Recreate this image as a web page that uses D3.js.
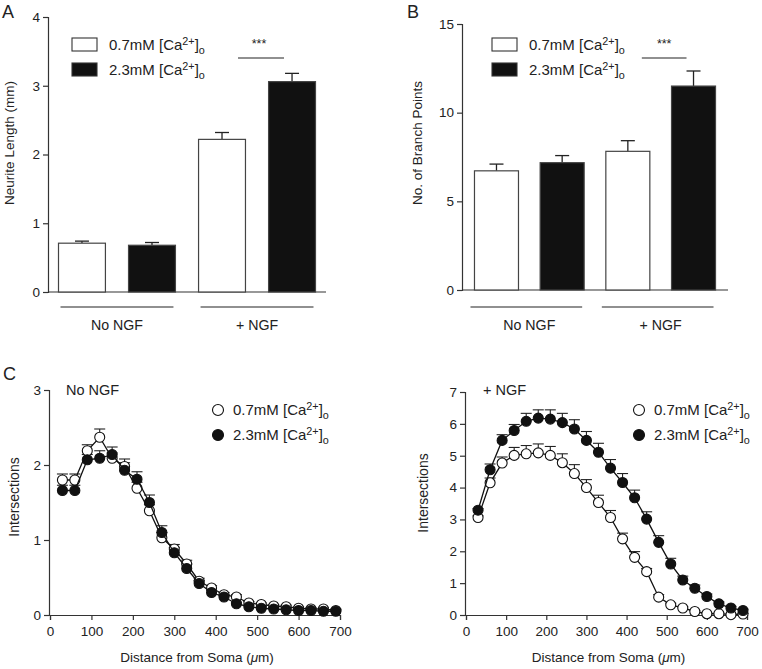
<!DOCTYPE html>
<html><head><meta charset="utf-8">
<script src="https://cdn.jsdelivr.net/npm/d3@7"></script>
<style>
body{margin:0;background:#fff;}
svg{display:block;font-family:"Liberation Sans",Arial,Helvetica,sans-serif;}
text{fill:#222;}
</style></head><body>
<svg id="chart" width="762" height="669"></svg>
<script>
// ---------- DATA ----------
const barKeys = ["No NGF|0.7", "No NGF|2.3", "+ NGF|0.7", "+ NGF|2.3"];
const groups = ["No NGF", "+ NGF"];
const legendLabels = ["0.7mM [Ca", "2.3mM [Ca"];
const lengthMean = [0.71, 0.68, 2.22, 3.06];
const lengthErr  = [0.03, 0.04, 0.10, 0.12];
const branchMean = [6.72, 7.18, 7.82, 11.5];
const branchErr  = [0.38, 0.40, 0.60, 0.85];
const lengthTicks = [0, 1, 2, 3, 4];
const branchTicks = [0, 5, 10, 15];

const distance = [30,60,90,120,150,180,210,240,270,300,330,360,390,420,450,480,510,540,570,600,630,660,690];
const noNgfLow  = [1.80,1.80,2.19,2.37,2.09,1.98,1.69,1.39,1.03,0.88,0.68,0.45,0.36,0.27,0.24,0.16,0.14,0.12,0.11,0.09,0.08,0.08,0.06];
const noNgfLowErr = [0.08,0.08,0.08,0.11,0.07,0.10,0.08,0.08,0.07,0.06,0.05,0.04,0.03,0.03,0.03,0.02,0.02,0.02,0.02,0.02,0.02,0.02,0.02];
const noNgfHigh = [1.66,1.66,2.07,2.09,2.14,1.93,1.81,1.50,1.10,0.83,0.62,0.42,0.30,0.24,0.15,0.11,0.09,0.08,0.07,0.06,0.06,0.05,0.05];
const noNgfHighErr = [0.07,0.07,0.07,0.10,0.10,0.10,0.10,0.10,0.09,0.07,0.06,0.04,0.03,0.03,0.02,0.02,0.02,0.02,0.02,0.02,0.02,0.02,0.02];
const ngfLow  = [3.06,4.15,4.77,5.01,5.06,5.09,5.01,4.78,4.44,4.00,3.53,3.06,2.39,1.81,1.36,0.56,0.32,0.22,0.11,0.04,0.04,0.01,0.03];
const ngfLowErr = [0.05,0.15,0.19,0.25,0.26,0.28,0.28,0.28,0.28,0.25,0.23,0.22,0.18,0.18,0.10,0.08,0.05,0.04,0.03,0.02,0.02,0.02,0.02];
const ngfHigh = [3.29,4.56,5.48,5.79,6.08,6.18,6.15,6.04,5.84,5.48,5.11,4.61,4.16,3.68,3.01,2.28,1.60,1.10,0.84,0.58,0.35,0.22,0.14];
const ngfHighErr = [0.05,0.18,0.18,0.19,0.25,0.26,0.29,0.29,0.29,0.28,0.28,0.27,0.28,0.24,0.23,0.21,0.18,0.12,0.10,0.08,0.06,0.05,0.04];
const noNgfTicks = [0, 1, 2, 3];
const ngfTicks = [0, 1, 2, 3, 4, 5, 6, 7];
const distTicks = [0, 100, 200, 300, 400, 500, 600, 700];

// ---------- DRAW ----------
const svg = d3.select("#chart");
const AX = "#333";
const LEG = 15;

function caLabel(sel, i, size) {
  sel.text(legendLabels[i]);
  sel.append("tspan").attr("dy", -5.5).attr("font-size", size * 0.72).text("2+");
  sel.append("tspan").attr("dy", 5.5).text("]");
  sel.append("tspan").attr("dy", 4).attr("font-size", size * 0.72).text("o");
}

function styleAxis(g) {
  g.select(".domain").attr("stroke", AX).attr("stroke-width", 1.2);
  g.selectAll(".tick line").attr("stroke", AX).attr("stroke-width", 1.2);
  g.selectAll(".tick text").attr("font-size", 13.5).attr("fill", "#222")
    .attr("font-family", '"Liberation Sans",Arial,sans-serif');
}

function barPanel(o) {
  const g = svg.append("g");
  const x = d3.scaleBand().domain(barKeys).range(o.xr).paddingInner(0.33).paddingOuter(o.po);
  const y = d3.scaleLinear().domain(o.yd).range(o.yr);
  const ya = g.append("g").attr("transform", `translate(${o.xr[0]},0)`)
    .call(d3.axisLeft(y).tickValues(o.ticks).tickFormat(d3.format("d")).tickSize(5).tickPadding(3));
  styleAxis(ya);
  g.append("line").attr("x1", o.xr[0]).attr("x2", o.xr[1]).attr("y1", y(0)).attr("y2", y(0))
    .attr("stroke", AX).attr("stroke-width", 1.2);
  const bw = x.bandwidth();
  barKeys.forEach((k, i) => {
    const cx = x(k) + bw / 2;
    g.append("line").attr("x1", cx).attr("x2", cx).attr("y1", y(o.mean[i])).attr("y2", y(o.mean[i] + o.err[i]))
      .attr("stroke", "#222").attr("stroke-width", 1.3);
    g.append("line").attr("x1", cx - 7).attr("x2", cx + 7).attr("y1", y(o.mean[i] + o.err[i])).attr("y2", y(o.mean[i] + o.err[i]))
      .attr("stroke", "#222").attr("stroke-width", 1.3);
  });
  g.selectAll("rect.bar").data(barKeys).join("rect").attr("class", "bar")
    .attr("x", d => x(d)).attr("width", bw)
    .attr("y", (d, i) => y(o.mean[i])).attr("height", (d, i) => y(0) - y(o.mean[i]))
    .attr("fill", (d, i) => i % 2 ? "#111" : "#fff")
    .attr("stroke", "#444").attr("stroke-width", 1.2);
  groups.forEach((gr, j) => {
    const a = x(barKeys[j * 2]), b = x(barKeys[j * 2 + 1]) + bw;
    g.append("line").attr("x1", a + o.gl[0]).attr("x2", b + o.gl[1]).attr("y1", 307).attr("y2", 307)
      .attr("stroke", "#222").attr("stroke-width", 1.2);
    g.append("text").attr("x", (a + b) / 2).attr("y", 330).attr("text-anchor", "middle")
      .attr("font-size", 14.2).text(gr);
  });
  const s1 = x(barKeys[2]) + bw / 2, s2 = x(barKeys[3]) + bw / 2;
  g.append("line").attr("x1", s1 + o.sig[0]).attr("x2", s2 + o.sig[1]).attr("y1", 58).attr("y2", 58)
    .attr("stroke", "#222").attr("stroke-width", 1.2);
  g.append("text").attr("x", (s1 + s2) / 2 + o.sig[2]).attr("y", 48).attr("text-anchor", "middle")
    .attr("font-size", 12.5).text("***");
  [0, 1].forEach(i => {
    g.append("rect").attr("x", o.lx).attr("y", 38 + i * 25).attr("width", 25).attr("height", 13)
      .attr("fill", i ? "#111" : "#fff").attr("stroke", "#333").attr("stroke-width", 1.1);
    caLabel(g.append("text").attr("x", o.lx + 37).attr("y", 50 + i * 25).attr("font-size", LEG), i, LEG);
  });
  g.append("text").attr("transform", `translate(${o.ytx},${o.yty}) rotate(-90)`).attr("text-anchor", "middle")
    .attr("font-size", 13.5).text(o.title);
  g.append("text").attr("x", o.letter[0]).attr("y", o.letter[1]).attr("font-size", 18).text(o.letter[2]);
}

barPanel({xr: [48, 326], po: 0.15, yd: [0, 4], yr: [292, 17], ticks: lengthTicks,
  mean: lengthMean, err: lengthErr, gl: [2, -2], sig: [16, -8, 2], lx: 72,
  ytx: 14, yty: 143, title: "Neurite Length (mm)", letter: [2, 18, "A"]});
barPanel({xr: [462, 728], po: 0.19, yd: [0, 15], yr: [290, 24], ticks: branchTicks,
  mean: branchMean, err: branchErr, gl: [-4, -2], sig: [14, -7, 3.5], lx: 492,
  ytx: 422, yty: 143, title: "No. of Branch Points", letter: [407, 18, "B"]});

function linePanel(o) {
  const g = svg.append("g");
  const x = d3.scaleLinear().domain([0, 700]).range(o.xr);
  const y = d3.scaleLinear().domain(o.yd).range(o.yr);
  const ya = g.append("g").attr("transform", `translate(${o.xr[0] - 1},0)`)
    .call(d3.axisLeft(y).tickValues(o.ticks).tickFormat(d3.format("d")).tickSize(5).tickPadding(3));
  styleAxis(ya);
  const xa = g.append("g").attr("transform", `translate(0,${o.yr[0]})`)
    .call(d3.axisBottom(x).tickValues(distTicks).tickFormat(d3.format("d")).tickSize(5).tickPadding(6));
  styleAxis(xa);
  const line = d3.line().x((d, i) => x(distance[i])).y(d => y(d));
  const series = [[o.low, o.lowErr, "#fff"], [o.high, o.highErr, "#111"]];
  series.forEach(([v, e]) => {
    v.forEach((d, i) => {
      const cx = x(distance[i]);
      g.append("line").attr("x1", cx).attr("x2", cx).attr("y1", y(d)).attr("y2", y(d + e[i]))
        .attr("stroke", "#222").attr("stroke-width", 1.1);
      g.append("line").attr("x1", cx - 5.5).attr("x2", cx + 5.5).attr("y1", y(d + e[i])).attr("y2", y(d + e[i]))
        .attr("stroke", "#222").attr("stroke-width", 1.1);
    });
  });
  series.forEach(([v, e, fill]) => {
    g.append("path").datum(v).attr("d", line).attr("fill", "none").attr("stroke", "#111").attr("stroke-width", 1.3);
    g.selectAll(null).data(v).join("circle").attr("cx", (d, i) => x(distance[i])).attr("cy", d => y(d))
      .attr("r", 5).attr("fill", fill).attr("stroke", "#111").attr("stroke-width", 1.1);
  });
  [0, 1].forEach(i => {
    g.append("circle").attr("cx", o.lx).attr("cy", 410 + i * 25).attr("r", 5.5)
      .attr("fill", i ? "#111" : "#fff").attr("stroke", "#111").attr("stroke-width", 1.1);
    caLabel(g.append("text").attr("x", o.lx + 15).attr("y", 415 + i * 25).attr("font-size", LEG), i, LEG);
  });
  g.append("text").attr("x", o.tag[0]).attr("y", 395).attr("font-size", 14.5).text(o.tag[1]);
  g.append("text").attr("transform", `translate(${o.ytx},${o.yty}) rotate(-90)`).attr("text-anchor", "middle")
    .attr("font-size", 14).text("Intersections");
  g.append("text").attr("x", (o.xr[0] + o.xr[1]) / 2 + 2).attr("y", 662).attr("text-anchor", "middle")
    .attr("font-size", 13.5).text("Distance from Soma (")
    .call(t => { t.append("tspan").attr("font-style", "italic").text("\u03bc"); t.append("tspan").text("m)"); });
}

linePanel({xr: [50, 340], yd: [0, 3], yr: [615, 390], ticks: noNgfTicks,
  low: noNgfLow, lowErr: noNgfLowErr, high: noNgfHigh, highErr: noNgfHighErr,
  lx: 218, tag: [66, "No NGF"], ytx: 19, yty: 497});
linePanel({xr: [466, 747], yd: [0, 7], yr: [615, 392], ticks: ngfTicks,
  low: ngfLow, lowErr: ngfLowErr, high: ngfHigh, highErr: ngfHighErr,
  lx: 639, tag: [483, "+ NGF"], ytx: 428, yty: 493});
svg.append("text").attr("x", 3).attr("y", 380).attr("font-size", 18).text("C");
</script>
</body></html>
